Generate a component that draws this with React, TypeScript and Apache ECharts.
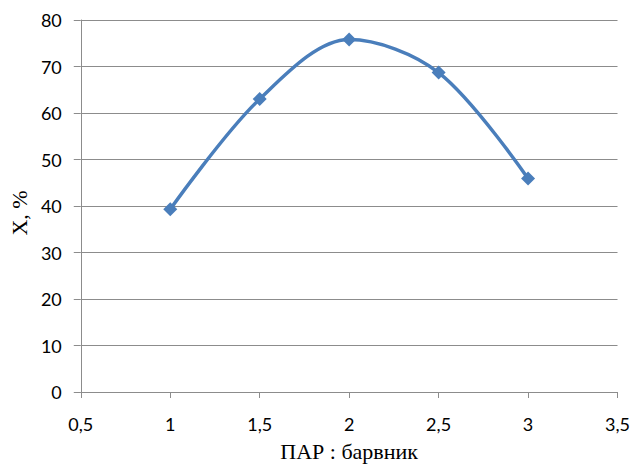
import React, { useEffect, useRef } from "react";
import * as echarts from "echarts";

const ratios = [1, 1.5, 2, 2.5, 3];
const conversion = [39.3, 63.0, 75.8, 68.7, 45.9];
const xAxisTitle = "ПАР : барвник";
const yAxisTitle = "X, %";

export default function App() {
  const ref = useRef<HTMLDivElement>(null);
  useEffect(() => {
    document.body.style.margin = "0";
    const chart = echarts.init(ref.current!, null, { renderer: "svg" });
    const gray = "#8c8c8c";
    chart.setOption({
      animation: false,
      backgroundColor: "#ffffff",
      grid: { left: 78, right: 14, top: 20, bottom: 73, containLabel: false },
      xAxis: {
        type: "value",
        min: 0.5,
        max: 3.5,
        interval: 0.5,
        name: xAxisTitle,
        nameLocation: "middle",
        nameGap: 48,
        nameTextStyle: { fontFamily: "Liberation Serif", fontSize: 22, color: "#000" },
        axisLine: { show: true, lineStyle: { color: gray, width: 1 } },
        axisTick: { show: true, length: 6, lineStyle: { color: gray } },
        splitLine: { show: false },
        axisLabel: {
          fontFamily: "Lato",
          fontSize: 18,
          color: "#000",
          margin: 23,
          formatter: (v: number) => String(v).replace(".", ","),
        },
      },
      yAxis: {
        type: "value",
        min: 0,
        max: 80,
        interval: 10,
        name: yAxisTitle,
        nameLocation: "middle",
        nameGap: 29,
        nameRotate: 90,
        nameTextStyle: {
          fontFamily: "Liberation Serif",
          fontSize: 22,
          color: "#000",
          padding: [0, 14, 0, 0],
        },
        axisLine: { show: true, lineStyle: { color: gray, width: 1 } },
        axisTick: { show: true, length: 7, lineStyle: { color: gray } },
        splitLine: { show: true, lineStyle: { color: gray, width: 1 } },
        axisLabel: { fontFamily: "Lato", fontSize: 18, color: "#000", margin: 19 },
      },
      series: [
        {
          type: "line",
          data: ratios.map((r, i) => [r, conversion[i]]),
          smooth: 0.33,
          symbol: "diamond",
          symbolSize: 14,
          lineStyle: { color: "#4a7ebb", width: 3.5 },
          itemStyle: { color: "#4a7ebb" },
        },
      ],
    });
    return () => chart.dispose();
  }, []);
  return <div ref={ref} style={{ width: 633, height: 467 }} />;
}
